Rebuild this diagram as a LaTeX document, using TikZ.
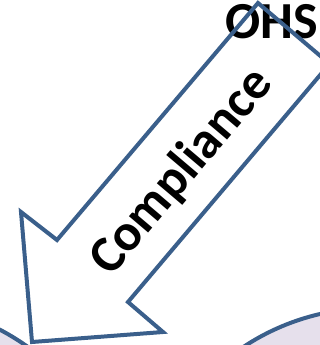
\documentclass[tikz,border=0pt]{standalone}
\usepackage{fontspec}
\setmainfont{Carlito}
\usepackage{xcolor}
\definecolor{outlineblue}{HTML}{3A5F8B}
\definecolor{lavender}{HTML}{E6E0EC}
\tikzset{
  blockarrow/.style={ % outline of the big arrow
    draw=outlineblue, line width=4pt, line join=miter
  },
  blob/.style={ % pale shapes at the bottom
    draw=outlineblue, line width=4pt, fill=lavender
  },
  bigtext/.style={ % bold words
    font=\bfseries\fontsize{52}{56}\selectfont, text=black, inner sep=0pt
  }
}

\begin{document}
\begin{tikzpicture}[x=1pt,y=-1pt]
  \useasboundingbox (0,0) rectangle (320,345);
  \clip (0,0) rectangle (320,345);

  % pale shapes below the arrow
  \draw[blob] (-109,538) circle (235);
  \draw[blob] (373,543) circle (235);

  % corners of the arrow
  \coordinate (shaftL) at (258,3);
  \coordinate (shaftR) at (329.6,63.8);
  \coordinate (notchR) at (128,302);
  \coordinate (barbR) at (163,332);
  \coordinate (tip) at (32,342);
  \coordinate (barbL) at (21,212);
  \coordinate (notchL) at (57,240);

  \fill[white] (shaftL) -- (shaftR) -- (notchR) -- (barbR) -- (tip)
    -- (barbL) -- (notchL) -- cycle;
  \node[bigtext, anchor=base west] (ohs) at (225,38) {OHS};
  \draw[blockarrow] (shaftL) -- (shaftR) -- (notchR) -- (barbR) -- (tip)
    -- (barbL) -- (notchL) -- cycle;
  \node[bigtext, rotate=49.7] (compliance) at (182,172) {Compliance};
\end{tikzpicture}
\end{document}
